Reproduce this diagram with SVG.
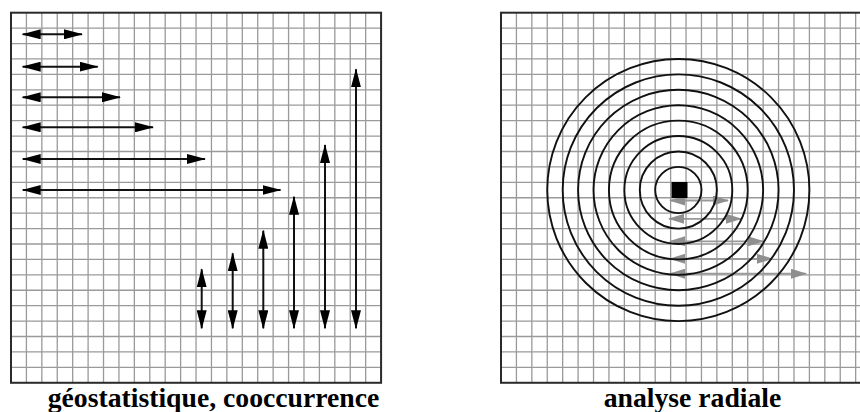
<svg xmlns="http://www.w3.org/2000/svg" width="860" height="412" viewBox="0 0 860 412">
<defs>
<style>
.grid{fill:none;stroke:#9a9a9a;stroke-width:1.3}
.border{fill:none;stroke:#2a2a2a;stroke-width:2}
.arr{fill:none;stroke:#111;stroke-width:2;marker-start:url(#hb);marker-end:url(#hb)}
.garr{fill:none;stroke:#999;stroke-width:1.8;marker-start:url(#hg);marker-end:url(#hg)}
.ring{fill:none;stroke:#111;stroke-width:1.9}
.lbl{font-weight:bold;font-size:27.7px;fill:#000;text-anchor:middle}
</style>
<marker id="hb" markerUnits="userSpaceOnUse" viewBox="0 0 19 10" markerWidth="19" markerHeight="10" refX="18" refY="5" orient="auto-start-reverse"><path d="M0,0 L19,5 L0,10 z" fill="#000"/></marker>
<marker id="hg" markerUnits="userSpaceOnUse" viewBox="0 0 16 10" markerWidth="16" markerHeight="10" refX="15" refY="5" orient="auto-start-reverse"><path d="M0,0 L16,5 L0,10 z" fill="#8f8f8f"/></marker>
</defs>
<rect width="860" height="412" fill="#fff"/>
<g id="panel-left">
<path class="grid" d="M26.42 12.7V382.78M41.84 12.7V382.78M57.26 12.7V382.78M72.68 12.7V382.78M88.1 12.7V382.78M103.52 12.7V382.78M118.94 12.7V382.78M134.36 12.7V382.78M149.78 12.7V382.78M165.2 12.7V382.78M180.62 12.7V382.78M196.04 12.7V382.78M211.46 12.7V382.78M226.88 12.7V382.78M242.3 12.7V382.78M257.72 12.7V382.78M273.14 12.7V382.78M288.56 12.7V382.78M303.98 12.7V382.78M319.4 12.7V382.78M334.82 12.7V382.78M350.24 12.7V382.78M365.66 12.7V382.78M11 28.12H381.08M11 43.54H381.08M11 58.96H381.08M11 74.38H381.08M11 89.8H381.08M11 105.22H381.08M11 120.64H381.08M11 136.06H381.08M11 151.48H381.08M11 166.9H381.08M11 182.32H381.08M11 197.74H381.08M11 213.16H381.08M11 228.58H381.08M11 244H381.08M11 259.42H381.08M11 274.84H381.08M11 290.26H381.08M11 305.68H381.08M11 321.1H381.08M11 336.52H381.08M11 351.94H381.08M11 367.36H381.08"/>
<rect class="border" x="11" y="12.7" width="370.08" height="370.08"/>
</g>
<g id="panel-right">
<path class="grid" d="M516.42 12.7V382.78M531.84 12.7V382.78M547.26 12.7V382.78M562.68 12.7V382.78M578.1 12.7V382.78M593.52 12.7V382.78M608.94 12.7V382.78M624.36 12.7V382.78M639.78 12.7V382.78M655.2 12.7V382.78M670.62 12.7V382.78M686.04 12.7V382.78M701.46 12.7V382.78M716.88 12.7V382.78M732.3 12.7V382.78M747.72 12.7V382.78M763.14 12.7V382.78M778.56 12.7V382.78M793.98 12.7V382.78M809.4 12.7V382.78M824.82 12.7V382.78M840.24 12.7V382.78M855.66 12.7V382.78M501 28.12H871.08M501 43.54H871.08M501 58.96H871.08M501 74.38H871.08M501 89.8H871.08M501 105.22H871.08M501 120.64H871.08M501 136.06H871.08M501 151.48H871.08M501 166.9H871.08M501 182.32H871.08M501 197.74H871.08M501 213.16H871.08M501 228.58H871.08M501 244H871.08M501 259.42H871.08M501 274.84H871.08M501 290.26H871.08M501 305.68H871.08M501 321.1H871.08M501 336.52H871.08M501 351.94H871.08M501 367.36H871.08"/>
<rect class="border" x="501" y="12.7" width="370.08" height="370.08"/>
</g>
<g id="connectors">
<g id="arrows-horizontal">
<line class="arr" x1="22.7" y1="34.3" x2="82" y2="34.3"/>
<line class="arr" x1="22.7" y1="66.7" x2="97.7" y2="66.7"/>
<line class="arr" x1="22.7" y1="97.3" x2="120" y2="97.3"/>
<line class="arr" x1="22.7" y1="127.3" x2="153" y2="127.3"/>
<line class="arr" x1="22.7" y1="159" x2="205" y2="159"/>
<line class="arr" x1="22.7" y1="190" x2="280.5" y2="190"/>
</g>
<g id="arrows-vertical">
<line class="arr" x1="201.7" y1="328.3" x2="201.7" y2="269.3"/>
<line class="arr" x1="232.7" y1="328.3" x2="232.7" y2="253.3"/>
<line class="arr" x1="263.3" y1="328.3" x2="263.3" y2="230.7"/>
<line class="arr" x1="294" y1="328.3" x2="294" y2="196.7"/>
<line class="arr" x1="325" y1="328.3" x2="325" y2="145"/>
<line class="arr" x1="356" y1="328.3" x2="356" y2="69.3"/>
</g>
<g id="arrows-radial">
<line class="garr" x1="670" y1="200.5" x2="728" y2="200.5"/>
<line class="garr" x1="669" y1="218.8" x2="741" y2="218.8"/>
<line class="garr" x1="670" y1="241.3" x2="763" y2="241.3"/>
<line class="garr" x1="670" y1="258.8" x2="772" y2="258.8"/>
<line class="garr" x1="670" y1="273.7" x2="806" y2="273.7"/>
</g>
</g>
<g id="rings">
<circle class="ring" cx="678.33" cy="190.03" r="23.13"/>
<circle class="ring" cx="678.33" cy="190.03" r="38.55"/>
<circle class="ring" cx="678.33" cy="190.03" r="53.97"/>
<circle class="ring" cx="678.33" cy="190.03" r="69.39"/>
<circle class="ring" cx="678.33" cy="190.03" r="84.81"/>
<circle class="ring" cx="678.33" cy="190.03" r="100.23"/>
<circle class="ring" cx="678.33" cy="190.03" r="115.65"/>
<circle class="ring" cx="678.33" cy="190.03" r="131.07"/>
</g>
<g id="center-cell">
<rect x="671.5" y="182" width="16" height="16" fill="#000"/>
</g>
<g id="labels">
<text class="lbl" font-family="Liberation Serif, Times New Roman, serif" x="213.5" y="407">géostatistique, cooccurrence</text>
<text class="lbl" font-family="Liberation Serif, Times New Roman, serif" x="692.5" y="407">analyse radiale</text>
</g>
</svg>
